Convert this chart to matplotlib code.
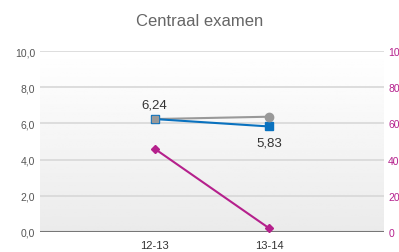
import numpy as np
import matplotlib.pyplot as plt

plt.rcParams['font.family'] = ['Liberation Sans', 'DejaVu Sans']

years = ['12-13', '13-14']
school = [6.24, 5.83]
landelijk = [6.24, 6.37]
percentage = [46, 2]

x = np.arange(len(years))

fig = plt.figure(figsize=(3.99, 2.53), dpi=100)
ax = fig.add_axes([40 / 399, 20 / 253, 344 / 399, 181 / 253])
ax2 = ax.twinx()

# background gradient: white at top, light gray at bottom
grad = np.linspace(0.92, 1.0, 100).reshape(-1, 1)
ax.imshow(grad, cmap='gray', vmin=0, vmax=1, aspect='auto',
          extent=[-1, 2, 0, 10], zorder=0, origin='lower')

ax.set_xlim(-1, 2)
ax.set_ylim(0, 10)
ax2.set_ylim(0, 100)

for v in np.arange(0, 11, 2):
    ax.axhline(v, color='#d8d8d8', lw=1.2, zorder=1)
ax.axhline(0, color='#777777', lw=1.5, zorder=2)

ax.plot(x, landelijk, color='#999999', lw=1.5, zorder=3)
ax.plot(x, school, color='#0a72bf', lw=1.5, marker='s', ms=6, zorder=4)
ax.plot(x[:1], landelijk[:1], color='#999999', marker='s', ms=5, ls='none', zorder=5)
ax.plot(x[1:], landelijk[1:], color='#999999', marker='o', ms=6, ls='none', zorder=5)
ax2.plot(x, percentage, color='#b5208c', lw=1.5, marker='D', ms=4.5, zorder=4)

ax.text(x[0], school[0] + 0.5, '6,24', ha='center', va='bottom', fontsize=9.5, color='#333333')
ax.text(x[1], school[1] - 0.55, '5,83', ha='center', va='top', fontsize=9.5, color='#333333')

ax.set_xticks(x)
ax.set_xticklabels(years)
ax.set_yticks(np.arange(0, 11, 2))
ax.set_yticklabels([f'{v:.1f}'.replace('.', ',') for v in np.arange(0, 11, 2)])
ax2.set_yticks(np.arange(0, 101, 20))
ax.tick_params(axis='both', length=0, labelsize=7.5, colors='#555555')
ax.tick_params(axis='x', pad=6, labelsize=8, colors='#333333')
ax2.tick_params(axis='y', length=0, labelsize=7.5, colors='#b5208c', pad=3)

for a in (ax, ax2):
    for s in a.spines.values():
        s.set_visible(False)
ax.set_zorder(1)
ax2.set_zorder(2)
ax2.patch.set_visible(False)

fig.text(0.5, 1 - 21 / 253, 'Centraal examen', ha='center', va='center', fontsize=12, color='#666666')

fig.savefig('out.png', dpi=100)
